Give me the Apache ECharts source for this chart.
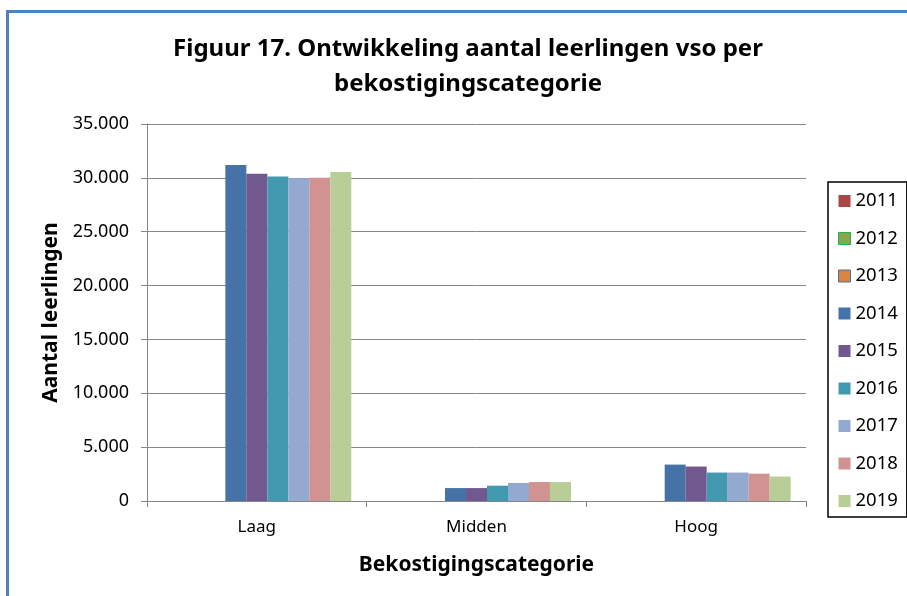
<!DOCTYPE html>
<html>
<head>
<meta charset="utf-8">
<script src="https://cdn.jsdelivr.net/npm/echarts@6/dist/echarts.min.js"></script>
<style>html,body{margin:0;padding:0;background:#fff}#c{width:907px;height:596px}</style>
</head>
<body>
<div id="c"></div>
<script>
const categories = ['Laag', 'Midden', 'Hoog'];
const years = ['2011','2012','2013','2014','2015','2016','2017','2018','2019'];
const v2011 = [null, null, null];
const v2012 = [null, null, null];
const v2013 = [null, null, null];
const v2014 = [31200, 1200, 3380];
const v2015 = [30370, 1200, 3200];
const v2016 = [30130, 1420, 2640];
const v2017 = [29970, 1670, 2640];
const v2018 = [30000, 1760, 2540];
const v2019 = [30550, 1760, 2270];
const seriesValues = [v2011, v2012, v2013, v2014, v2015, v2016, v2017, v2018, v2019];
const colors = ['#AA4643','#89A54E','#DB843D','#4572A7','#71588F','#4198AF','#93A9CF','#D19392','#B9CD96'];
const legendBorders = [null, '#22B14C', '#4572A7', null, null, null, null, null, null];
const yTicks = [0, 5000, 10000, 15000, 20000, 25000, 30000, 35000];

const font = '"Noto Sans", sans-serif';
const fmt = v => v === 0 ? '0' : String(v).replace(/\B(?=(\d{3})+(?!\d))/g, '.');

const chart = echarts.init(document.getElementById('c'), null, {renderer: 'canvas'});
chart.setOption({
  animation: false,
  color: colors,
  textStyle: {fontFamily: font},
  title: {
    text: 'Figuur 17. Ontwikkeling aantal leerlingen vso per\nbekostigingscategorie',
    left: 463, top: 27, textAlign: 'center',
    textStyle: {fontFamily: font, fontWeight: 'bold', fontSize: 24, lineHeight: 35, color: '#000'}
  },
  graphic: [
    {type: 'line', shape: {x1: 6, y1: 11.5, x2: 907, y2: 11.5}, style: {stroke: '#4F81BD', lineWidth: 3}},
    {type: 'line', shape: {x1: 7.5, y1: 10, x2: 7.5, y2: 596}, style: {stroke: '#4F81BD', lineWidth: 3}}
  ],
  legend: {
    orient: 'vertical', left: 828, top: 182,
    padding: [9.5, 9, 6.5, 10],
    borderColor: '#000', borderWidth: 1.5,
    icon: 'rect',
    itemWidth: 12, itemHeight: 12, itemGap: 18.5,
    textStyle: {fontFamily: font, fontSize: 18.5, color: '#000', lineHeight: 17},
    data: years.map((y, i) => legendBorders[i]
      ? {name: y, itemStyle: {borderColor: legendBorders[i], borderWidth: 1}}
      : {name: y})
  },
  grid: {left: 147, right: 101, top: 124, bottom: 95, containLabel: false},
  xAxis: {
    type: 'category', data: categories,
    axisLine: {lineStyle: {color: '#868686', width: 1}},
    axisTick: {show: true, length: 6, lineStyle: {color: '#868686'}},
    axisLabel: {fontFamily: font, fontSize: 17, color: '#000', margin: 18},
    name: 'Bekostigingscategorie', nameLocation: 'middle', nameGap: 54,
    nameTextStyle: {fontFamily: font, fontWeight: 'bold', fontSize: 21, color: '#000'}
  },
  yAxis: {
    type: 'value', min: 0, max: 35000, interval: 5000,
    axisLine: {show: true, lineStyle: {color: '#868686'}},
    axisTick: {show: true, length: 6, lineStyle: {color: '#868686'}},
    splitLine: {lineStyle: {color: '#868686', width: 1}},
    axisLabel: {fontFamily: font, fontSize: 18, color: '#000', margin: 18, formatter: fmt},
    name: 'Aantal leerlingen', nameLocation: 'middle', nameGap: 85, nameRotate: 90,
    nameTextStyle: {fontFamily: font, fontWeight: 'bold', fontSize: 21, color: '#000'}
  },
  series: years.map((y, i) => ({
    name: y, type: 'bar', data: seriesValues[i],
    barGap: '0%', barCategoryGap: '14%',
    itemStyle: {color: colors[i]}
  }))
});
</script>
</body>
</html>
